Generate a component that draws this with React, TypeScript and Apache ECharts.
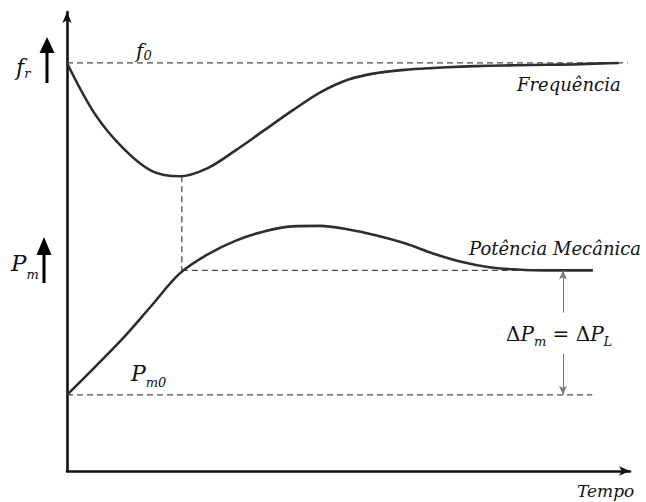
import React, { useEffect, useRef } from "react";
import * as echarts from "echarts";

// Sample times (plot units along the time axis)
const TIME = [0, 0.5, 1, 1.5, 2, 2.5, 3, 3.5, 4, 4.5, 5, 5.5, 6, 6.5, 7, 7.5, 8, 8.5, 9, 9.5];

// Frequency response after a load step
const FREQ = [8.89, 7.77, 7.03, 6.54, 6.42, 6.6, 6.99, 7.42, 7.85, 8.25, 8.53, 8.67, 8.74, 8.78, 8.81, 8.83, 8.84, 8.85, 8.86, 8.88];
const FREQ_END = [9.8, 8.89];

// Mechanical power response
const PM = [1.66, 2.27, 2.9, 3.6, 4.3, 4.72, 5.02, 5.22, 5.33, 5.34, 5.26, 5.13, 4.96, 4.74, 4.56, 4.44, 4.39, 4.37, 4.37];
const PM_END = [9.34, 4.37];

// Reference levels
const F0 = 8.89;
const PM0 = 1.66;
const PM_FINAL = 4.37;
const T_DIP = 2.04;
const FREQ_DIP = 6.42;
const T_F0_END = 9.96;
const T_PM_END = 9.33;
const T_DELTA = 8.81;
const DELTA_GAP = [3.45, 2.55];

const SERIF = "DejaVu Serif";

function pairs(xs: number[], ys: number[], last: number[]) {
  return ys.map((y, i) => [xs[i], y]).concat([last]);
}

// rich-text helper for symbols with subscripts
function symRich(main: number, sub: number, offset: number) {
  return {
    i: { fontFamily: SERIF, fontStyle: "italic", fontSize: main, lineHeight: sub + 2 * offset, fill: "#111" },
    n: { fontFamily: SERIF, fontSize: main, lineHeight: sub + 2 * offset, fill: "#111" },
    s: { fontFamily: SERIF, fontStyle: "italic", fontSize: sub, lineHeight: sub, verticalAlign: "bottom", fill: "#111" },
  };
}

function label(text: string, x: number, y: number, rich: any) {
  return {
    type: "text",
    x,
    y,
    style: { text, rich, align: "left", verticalAlign: "middle" },
    silent: true,
  };
}

function plainLabel(text: string, x: number, y: number, size: number) {
  return {
    type: "text",
    x,
    y,
    style: {
      text,
      fontFamily: SERIF,
      fontStyle: "italic",
      fontSize: size,
      fill: "#111",
      align: "left",
      verticalAlign: "middle",
    },
    silent: true,
  };
}

function upArrow(x: number, tip: number, base: number, bottom: number) {
  return [
    { type: "line", shape: { x1: x, y1: base - 2, x2: x, y2: bottom }, style: { stroke: "#000", lineWidth: 3 }, silent: true },
    { type: "polygon", shape: { points: [[x - 7.5, base], [x + 7.5, base], [x, tip]] }, style: { fill: "#000" }, silent: true },
  ];
}

const dashed = { type: [6, 4], width: 1.3, color: "#4a4a4a" };

export default function App() {
  const ref = useRef<HTMLDivElement>(null);

  useEffect(() => {
    if (!ref.current) return;
    document.body.style.margin = "0";
    const chart = echarts.init(ref.current, null, { renderer: "svg" });
    chart.setOption({
      animation: false,
      backgroundColor: "#fff",
      grid: { left: 67, right: 16, top: 12, bottom: 31 },
      xAxis: {
        type: "value",
        min: 0,
        max: 10,
        axisLine: { show: true, onZero: false, lineStyle: { color: "#111", width: 2.6 }, symbol: ["none", "arrow"], symbolSize: [7, 11] },
        axisTick: { show: false },
        axisLabel: { show: false },
        splitLine: { show: false },
      },
      yAxis: {
        type: "value",
        min: 0,
        max: 10,
        axisLine: { show: true, onZero: false, lineStyle: { color: "#111", width: 2.6 }, symbol: ["none", "arrow"], symbolSize: [7, 11] },
        axisTick: { show: false },
        axisLabel: { show: false },
        splitLine: { show: false },
      },
      series: [
        { type: "line", data: [[0, F0], [T_F0_END, F0]], symbol: "none", lineStyle: dashed, silent: true },
        { type: "line", data: [[T_DIP, FREQ_DIP], [T_DIP, PM_FINAL]], symbol: "none", lineStyle: dashed, silent: true },
        { type: "line", data: [[T_DIP, PM_FINAL], [T_PM_END, PM_FINAL]], symbol: "none", lineStyle: dashed, silent: true },
        { type: "line", data: [[0, PM0], [T_PM_END, PM0]], symbol: "none", lineStyle: dashed, silent: true },
        {
          name: "Frequência",
          type: "line",
          data: pairs(TIME, FREQ, FREQ_END),
          smooth: 0.35,
          symbol: "none",
          lineStyle: { color: "#2e2e2e", width: 2.6 },
          silent: true,
        },
        {
          name: "Potência Mecânica",
          type: "line",
          data: pairs(TIME, PM, PM_END),
          smooth: 0.35,
          symbol: "none",
          lineStyle: { color: "#2e2e2e", width: 2.6 },
          silent: true,
        },
        {
          type: "line",
          data: [],
          silent: true,
          markLine: {
            silent: true,
            symbol: ["none", "arrow"],
            symbolSize: [6, 9],
            label: { show: false },
            lineStyle: { color: "#777", width: 1, type: "solid" },
            data: [
              [{ coord: [T_DELTA, DELTA_GAP[0]] }, { coord: [T_DELTA, PM_FINAL] }],
              [{ coord: [T_DELTA, DELTA_GAP[1]] }, { coord: [T_DELTA, PM0] }],
            ],
          },
        },
      ],
      graphic: [
        label("{i|f}{s|r}", 16, 67, symRich(22, 13, 6)),
        ...upArrow(47, 37, 53, 83),
        label("{i|f}{s|0}", 136, 51, symRich(20, 13, 4)),
        label("{i|P}{s|m}", 11, 263, symRich(23, 13, 11)),
        ...upArrow(44, 237, 255, 283),
        label("{i|P}{s|m0}", 131, 373, symRich(22, 13, 9)),
        label("{n|Δ}{i|P}{s|m}{n| = Δ}{i|P}{s|L}", 506, 334, symRich(20, 13, 7)),
        plainLabel("Frequência", 517, 84, 18),
        plainLabel("Potência Mecânica", 469, 248, 18),
        plainLabel("Tempo", 577, 491, 17),
      ],
    });
    return () => chart.dispose();
  }, []);

  return <div ref={ref} style={{ width: 646, height: 502 }} />;
}
